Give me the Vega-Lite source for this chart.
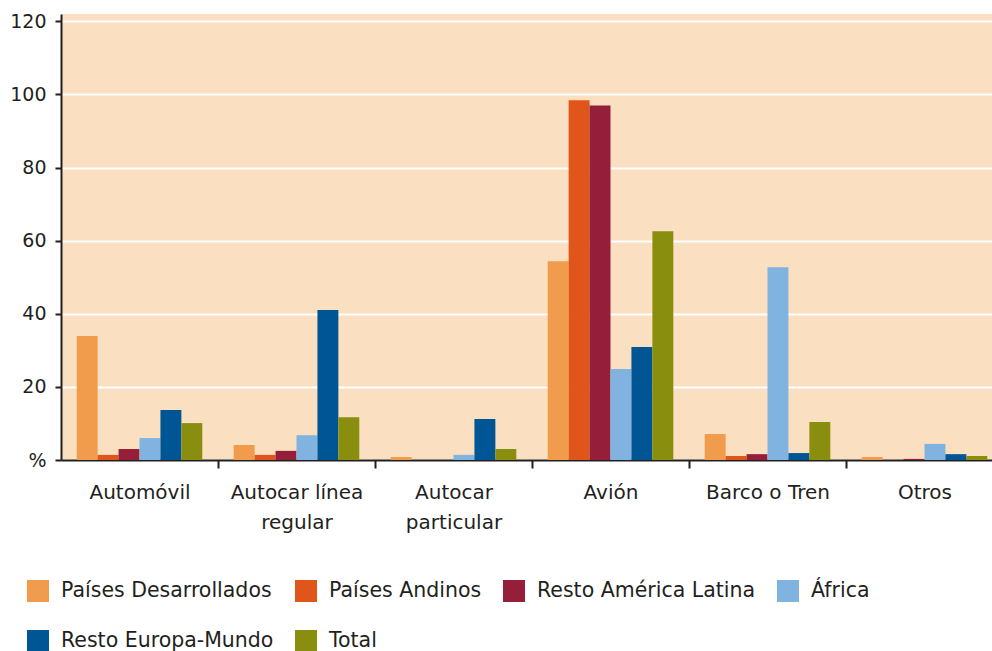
{
  "$schema": "https://vega.github.io/schema/vega-lite/v6.json",
  "width": 942,
  "height": 446,
  "autosize": {"type": "none"},
  "padding": {"left": 61, "top": 14, "right": 0, "bottom": 191},
  "background": "white",
  "config": {
    "view": {"fill": "#fbdfc1", "stroke": null},
    "font": "DejaVu Sans"
  },
  "data": {
    "values": [
      {"modo": "Automóvil", "origen": "Países Desarrollados", "pct": 33.9},
      {"modo": "Automóvil", "origen": "Países Andinos", "pct": 1.4},
      {"modo": "Automóvil", "origen": "Resto América Latina", "pct": 3.0},
      {"modo": "Automóvil", "origen": "África", "pct": 6.0},
      {"modo": "Automóvil", "origen": "Resto Europa-Mundo", "pct": 13.7},
      {"modo": "Automóvil", "origen": "Total", "pct": 10.1},
      {"modo": "Autocar línea regular", "origen": "Países Desarrollados", "pct": 4.1},
      {"modo": "Autocar línea regular", "origen": "Países Andinos", "pct": 1.4},
      {"modo": "Autocar línea regular", "origen": "Resto América Latina", "pct": 2.5},
      {"modo": "Autocar línea regular", "origen": "África", "pct": 6.8},
      {"modo": "Autocar línea regular", "origen": "Resto Europa-Mundo", "pct": 41.0},
      {"modo": "Autocar línea regular", "origen": "Total", "pct": 11.7},
      {"modo": "Autocar particular", "origen": "Países Desarrollados", "pct": 0.8},
      {"modo": "Autocar particular", "origen": "Países Andinos", "pct": 0},
      {"modo": "Autocar particular", "origen": "Resto América Latina", "pct": 0},
      {"modo": "Autocar particular", "origen": "África", "pct": 1.4},
      {"modo": "Autocar particular", "origen": "Resto Europa-Mundo", "pct": 11.2},
      {"modo": "Autocar particular", "origen": "Total", "pct": 3.0},
      {"modo": "Avión", "origen": "Países Desarrollados", "pct": 54.4},
      {"modo": "Avión", "origen": "Países Andinos", "pct": 98.4},
      {"modo": "Avión", "origen": "Resto América Latina", "pct": 97.0},
      {"modo": "Avión", "origen": "África", "pct": 24.9},
      {"modo": "Avión", "origen": "Resto Europa-Mundo", "pct": 30.9},
      {"modo": "Avión", "origen": "Total", "pct": 62.6},
      {"modo": "Barco o Tren", "origen": "Países Desarrollados", "pct": 7.1},
      {"modo": "Barco o Tren", "origen": "Países Andinos", "pct": 1.1},
      {"modo": "Barco o Tren", "origen": "Resto América Latina", "pct": 1.6},
      {"modo": "Barco o Tren", "origen": "África", "pct": 52.7},
      {"modo": "Barco o Tren", "origen": "Resto Europa-Mundo", "pct": 1.9},
      {"modo": "Barco o Tren", "origen": "Total", "pct": 10.4},
      {"modo": "Otros", "origen": "Países Desarrollados", "pct": 0.8},
      {"modo": "Otros", "origen": "Países Andinos", "pct": 0},
      {"modo": "Otros", "origen": "Resto América Latina", "pct": 0.3},
      {"modo": "Otros", "origen": "África", "pct": 4.4},
      {"modo": "Otros", "origen": "Resto Europa-Mundo", "pct": 1.6},
      {"modo": "Otros", "origen": "Total", "pct": 1.1}
    ]
  },
  "mark": {"type": "bar"},
  "encoding": {
    "x": {
      "field": "modo",
      "type": "nominal",
      "sort": ["Automóvil", "Autocar línea regular", "Autocar particular", "Avión", "Barco o Tren", "Otros"],
      "scale": {"paddingInner": 0.2, "paddingOuter": 0.1},
      "axis": {
        "title": null,
        "labelAngle": 0,
        "labelFontSize": 20,
        "labelColor": "#231f20",
        "labelBaseline": "top",
        "labelPadding": 14,
        "labelLineHeight": 30,
        "labelLimit": 300,
        "domainColor": "#231f20",
        "domainWidth": 2,
        "tickColor": "#231f20",
        "tickWidth": 2,
        "tickSize": 8,
        "tickOffset": 78.5,
        "labelOffset": -78.5,
        "grid": false,
        "labelExpr": "datum.value == 'Autocar línea regular' ? ['Autocar línea', 'regular'] : datum.value == 'Autocar particular' ? ['Autocar', 'particular'] : datum.label"
      }
    },
    "xOffset": {
      "field": "origen",
      "type": "nominal",
      "sort": ["Países Desarrollados", "Países Andinos", "Resto América Latina", "África", "Resto Europa-Mundo", "Total"]
    },
    "y": {
      "field": "pct",
      "type": "quantitative",
      "scale": {"domain": [0, 122], "nice": false},
      "axis": {
        "title": null,
        "values": [0, 20, 40, 60, 80, 100, 120],
        "labelExpr": "datum.value == 0 ? '%' : datum.label",
        "labelFontSize": 19,
        "labelColor": "#231f20",
        "labelPadding": 9,
        "domainColor": "#231f20",
        "domainWidth": 2,
        "tickColor": "#231f20",
        "tickWidth": 2,
        "tickSize": 6,
        "grid": true,
        "gridColor": "#ffffff",
        "gridWidth": 2,
        "gridOpacity": 1
      }
    },
    "color": {
      "field": "origen",
      "type": "nominal",
      "scale": {
        "domain": ["Países Desarrollados", "Países Andinos", "Resto América Latina", "África", "Resto Europa-Mundo", "Total"],
        "range": ["#f09c4c", "#e05519", "#951f3a", "#80b3e0", "#005694", "#8a8e0f"]
      },
      "legend": {
        "title": null,
        "orient": "none",
        "legendX": -34,
        "legendY": 566,
        "direction": "horizontal",
        "columns": 4,
        "gridAlign": "none",
        "symbolType": "square",
        "symbolSize": 484,
        "symbolStrokeWidth": 0,
        "symbolOpacity": 1,
        "labelFontSize": 20.5,
        "labelColor": "#231f20",
        "labelOffset": 12,
        "labelLimit": 400,
        "columnPadding": 21,
        "rowPadding": 28
      }
    }
  }
}
